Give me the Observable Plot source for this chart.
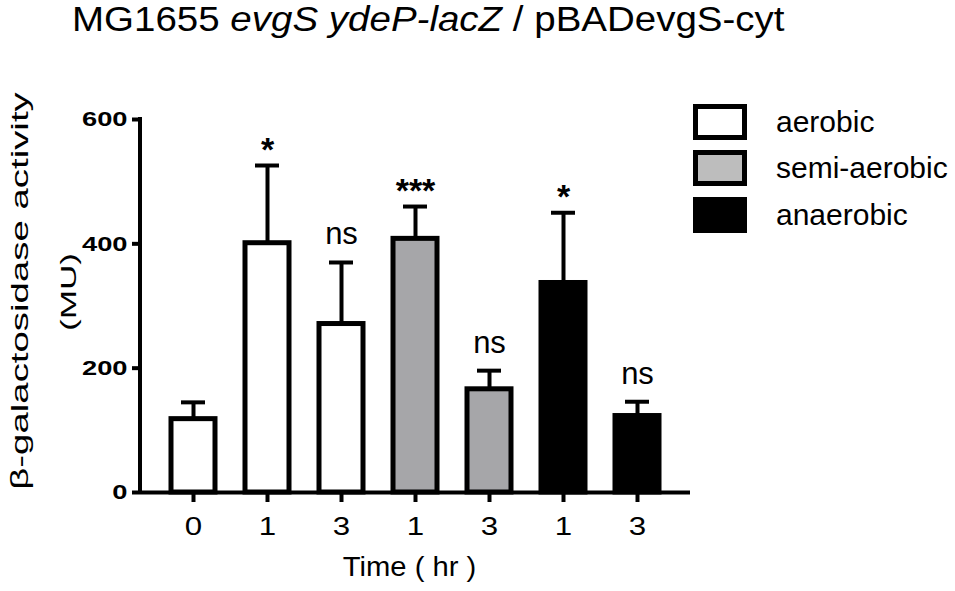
<!DOCTYPE html>
<html><head><meta charset="utf-8">
<script src="https://cdn.jsdelivr.net/npm/d3@7"></script>
<script src="https://cdn.jsdelivr.net/npm/@observablehq/plot@0.6"></script>
<style>
body{margin:0;background:#fff;font-family:"Liberation Sans",Arial,sans-serif;}
#wrap{position:relative;width:955px;height:591px;overflow:hidden;background:#fff}
#chart{position:absolute;left:0;top:0}
#title{position:absolute;left:72px;top:0px;font-size:35px;line-height:38px;white-space:nowrap;color:#000;transform:scaleX(1.1);transform-origin:left top}
.leg{position:absolute;left:693px;width:54px;height:36px;box-sizing:border-box;border:5px solid #000}
.legt{position:absolute;left:776px;font-size:30px;line-height:36px;color:#000;white-space:nowrap}
</style></head><body>
<div id="wrap"><div id="chart"></div><div id="title">MG1655 <i>evgS ydeP-lacZ</i> / pBADevgS-cyt</div><div id="legend"></div></div>
<script>
const keys = ["aer0","aer1","aer3","semi1","semi3","ana1","ana3"];
const timeLabels = ["0","1","3","1","3","1","3"];
const conditions = ["aerobic","aerobic","aerobic","semi-aerobic","semi-aerobic","anaerobic","anaerobic"];
const means = [118,401,271,408,166,337,123];
const errors = [27,125,99,52,30,113,23];
const significance = ["","*","ns","***","ns","*","ns"];
const legendLabels = ["aerobic","semi-aerobic","anaerobic"];
const barColors = ["#ffffff","#a6a6a9","#000000"];
const legendColors = ["#ffffff","#bdbdbd","#000000"];
const yTicks = [0,200,400,600];
const yLabel = "β-galactosidase activity";
const yUnit = "(MU)";
const xLabel = "Time ( hr )";

const data = keys.map((k,i)=>({key:k, time:timeLabels[i], cond:conditions[i], mean:means[i], err:errors[i], sig:significance[i]}));
const fillOf = c => barColors[legendLabels.indexOf(c)];

const yAxisLine = (index, scales, values, dimensions) => {
  const l = document.createElementNS("http://www.w3.org/2000/svg","line");
  const x = dimensions.marginLeft;
  l.setAttribute("x1", x); l.setAttribute("x2", x);
  l.setAttribute("y1", scales.y(0) + 2); l.setAttribute("y2", scales.y(600) - 2);
  l.setAttribute("stroke","black"); l.setAttribute("stroke-width", 4);
  return l;
};

const chart = Plot.plot({
  width: 955, height: 591,
  marginLeft: 140, marginRight: 265, marginTop: 119, marginBottom: 99,
  style: {fontFamily: "'Liberation Sans', Arial, sans-serif", color: "black", background: "white", overflow: "visible"},
  x: {domain: keys, paddingInner: 0.41, paddingOuter: 0.395, label: null},
  y: {domain: [0, 600], label: null},
  marks: [
    Plot.barY(data, {x: "key", y: "mean", fill: d => fillOf(d.cond), stroke: "black", strokeWidth: 5}),
    Plot.ruleX(data, {x: "key", y1: "mean", y2: d => d.mean + d.err, stroke: "black", strokeWidth: 4}),
    Plot.tickY(data, {x: "key", y: d => d.mean + d.err, stroke: "black", strokeWidth: 4, insetLeft: 10, insetRight: 10}),
    Plot.ruleY([0], {stroke: "black", strokeWidth: 4}),
    yAxisLine,
    Plot.axisY({ticks: yTicks, tickSize: 8, tickPadding: 5, fontSize: 21, fontWeight: "bold", strokeWidth: 4, label: null}),
    Plot.axisX({tickSize: 10, tickPadding: 15, fontSize: 25, strokeWidth: 4, tickFormat: k => timeLabels[keys.indexOf(k)], label: null}),
    Plot.text(data.filter(d => d.sig.startsWith("*")), {x: "key", y: d => d.mean + d.err, text: "sig", fontSize: 34, fontWeight: "bold", lineAnchor: "bottom", dy: -5}),
    Plot.text(data.filter(d => d.sig === "ns"), {x: "key", y: d => d.mean + d.err, text: "sig", fontSize: 31, lineAnchor: "bottom", dy: -18}),
    Plot.text([yLabel], {frameAnchor: "left", textAnchor: "middle", rotate: -90, dx: -120, dy: -15, fontSize: 24}),
    Plot.text([yUnit], {frameAnchor: "left", textAnchor: "middle", rotate: -90, dx: -72, dy: -14, fontSize: 22}),
    Plot.text([xLabel], {frameAnchor: "bottom", textAnchor: "middle", dx: -6, dy: 83, fontSize: 27})
  ]
});
document.getElementById("chart").appendChild(chart);

// stretch texts that are drawn wider than their height in the reference
function stretch(t, s) {
  let tr = t.getAttribute("transform");
  if (!tr) {
    const x = +(t.getAttribute("x") || 0), y = +(t.getAttribute("y") || 0);
    t.removeAttribute("x"); t.removeAttribute("y");
    tr = `translate(${x},${y})`;
  }
  t.setAttribute("transform", tr + ` scale(${s},1)`);
}
chart.querySelectorAll("text").forEach(t => {
  if (t.textContent === yLabel || t.textContent === yUnit) stretch(t, 1.6);
  if (t.textContent === xLabel) stretch(t, 1.08);
});
chart.querySelectorAll('g[aria-label="y-axis tick label"] text').forEach(t => stretch(t, 1.3));
chart.querySelectorAll('g[aria-label="x-axis tick label"] text').forEach(t => stretch(t, 1.25));

const leg = document.getElementById("legend");
const legTops = [104, 150, 197];
legendLabels.forEach((lab, i) => {
  const b = document.createElement("div");
  b.className = "leg"; b.style.top = legTops[i] + "px"; b.style.background = legendColors[i];
  leg.appendChild(b);
  const t = document.createElement("div");
  t.className = "legt"; t.style.top = legTops[i] + "px"; t.textContent = lab;
  leg.appendChild(t);
});
</script>
</body></html>
